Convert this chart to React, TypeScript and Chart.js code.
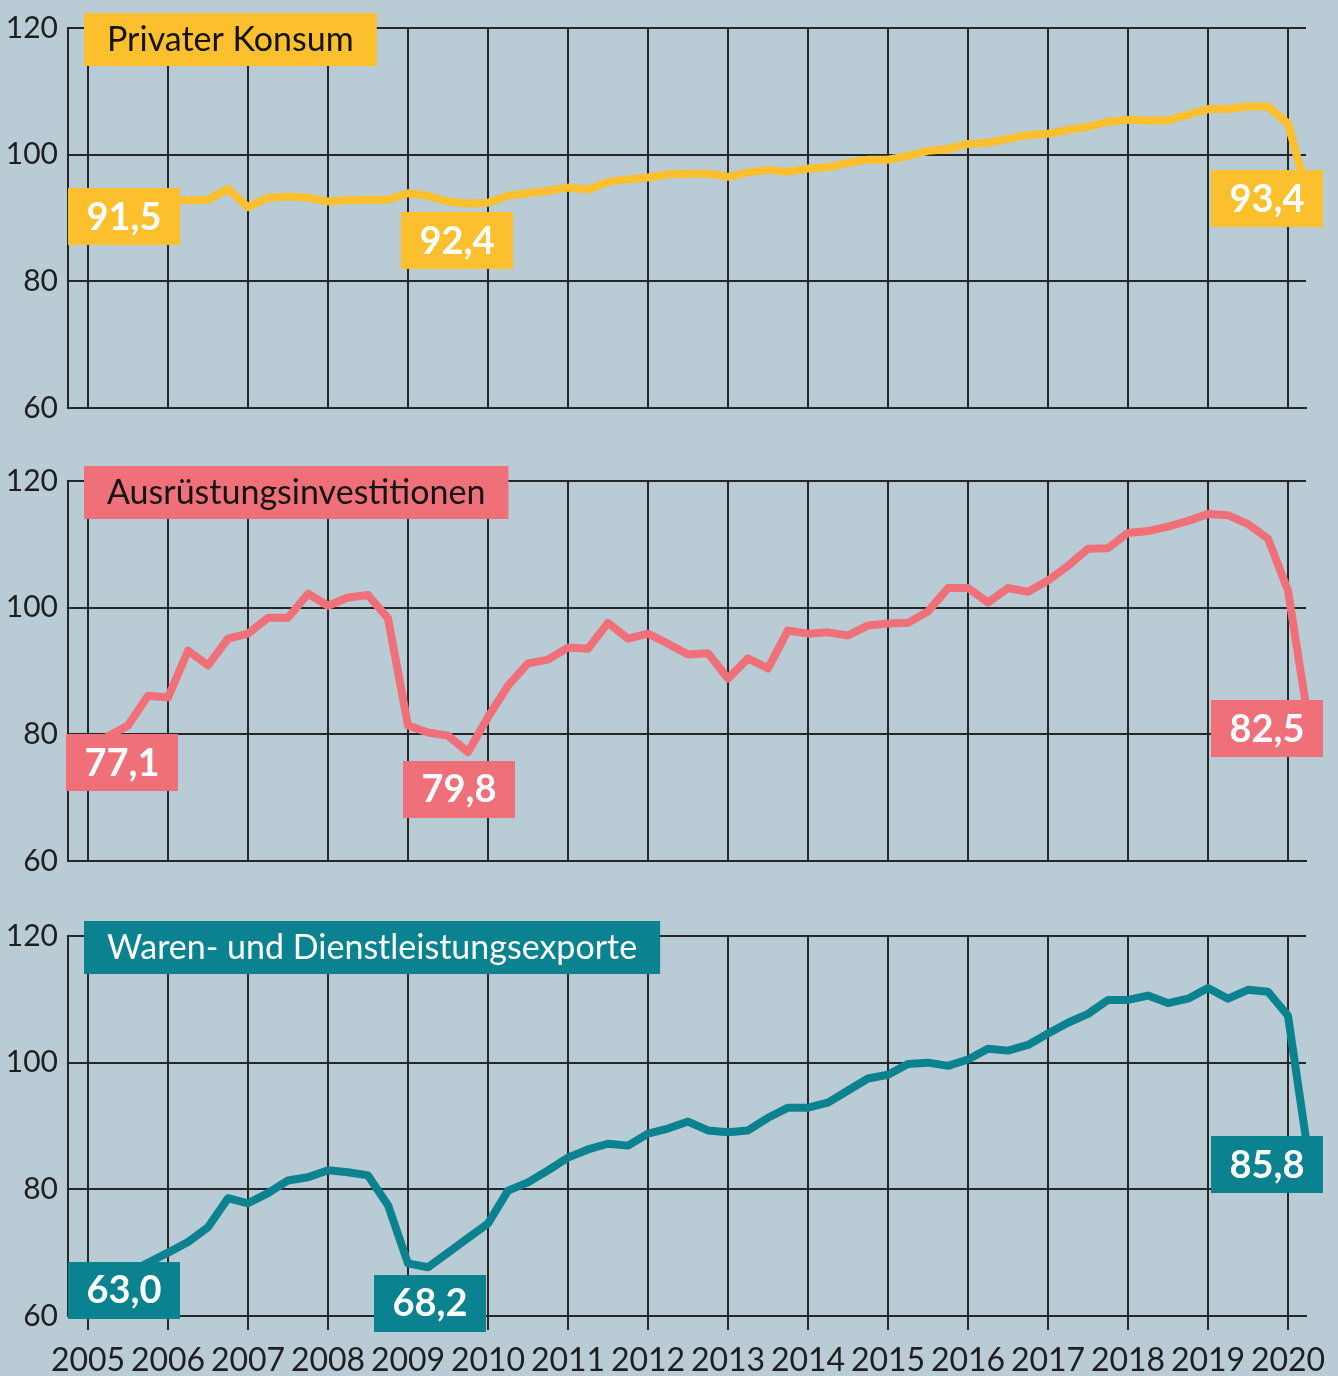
import React, { useEffect, useRef } from 'react';
import { Chart, registerables } from 'chart.js';

Chart.register(...registerables);

// ---- Data ----
const yearTicks = [2005, 2006, 2007, 2008, 2009, 2010, 2011, 2012, 2013, 2014, 2015, 2016, 2017, 2018, 2019, 2020];
const yTicks = [60, 80, 100, 120];

const quarterLabels: string[] = [];
for (const y of yearTicks) for (const q of [1, 2, 3, 4]) quarterLabels.push(`${y}-Q${q}`);
const quarters = quarterLabels.slice(0, 62); // 2005-Q1 … 2020-Q2

const konsum = [
  91.5, 91.9, 92.2, 92.5, 92.7, 92.8, 92.9, 94.6, 91.7, 93.2, 93.4, 93.2, 92.6, 92.8, 92.9, 92.9,
  93.9, 93.5, 92.6, 92.3, 92.4, 93.5, 93.9, 94.3, 94.8, 94.5, 95.7, 96.1, 96.4, 96.9, 97.0, 97.0,
  96.5, 97.2, 97.6, 97.3, 97.8, 98.0, 98.7, 99.2, 99.2, 99.8, 100.6, 100.9, 101.7, 101.9, 102.5, 103.1,
  103.3, 103.9, 104.4, 105.2, 105.5, 105.4, 105.4, 106.3, 107.2, 107.2, 107.6, 107.6, 104.9, 93.4,
];

const investitionen = [
  77.1, 79.7, 81.4, 86.1, 85.8, 93.2, 90.9, 95.1, 95.9, 98.4, 98.4, 102.2, 100.3, 101.6, 102.0, 98.3,
  81.4, 80.3, 79.8, 77.2, 82.7, 87.7, 91.2, 91.8, 93.7, 93.5, 97.6, 95.1, 95.9, 94.3, 92.6, 92.8,
  88.8, 92.0, 90.4, 96.4, 95.9, 96.1, 95.6, 97.2, 97.5, 97.6, 99.4, 103.1, 103.1, 100.8, 103.1, 102.5,
  104.3, 106.6, 109.3, 109.4, 111.8, 112.1, 112.8, 113.7, 114.8, 114.6, 113.2, 110.9, 102.7, 82.5,
];

const exporte = [
  63.0, 64.9, 66.7, 68.4, 70.0, 71.7, 74.0, 78.6, 77.8, 79.4, 81.4, 81.9, 83.0, 82.7, 82.2, 77.5,
  68.3, 67.7, 70.0, 72.3, 74.6, 79.8, 81.1, 83.0, 85.0, 86.3, 87.2, 86.9, 88.8, 89.6, 90.7, 89.3,
  89.0, 89.3, 91.3, 92.9, 92.9, 93.7, 95.6, 97.5, 98.1, 99.8, 100.0, 99.5, 100.5, 102.2, 101.9, 102.8,
  104.6, 106.3, 107.7, 109.9, 109.9, 110.6, 109.4, 110.1, 111.8, 110.1, 111.5, 111.2, 107.4, 85.8,
];

const konsumLabels = [
  { text: '91,5', index: 0 },
  { text: '92,4', index: 19 },
  { text: '93,4', index: 61 },
];
const investitionenLabels = [
  { text: '77,1', index: 0 },
  { text: '79,8', index: 19 },
  { text: '82,5', index: 61 },
];
const exporteLabels = [
  { text: '63,0', index: 0 },
  { text: '68,2', index: 17 },
  { text: '85,8', index: 61 },
];

// ---- Layout / style (kept apart from the data) ----
const BG = '#b9cbd4';
const GRID = '#262626';
const FONT = 'Lato, "Noto Sans", sans-serif';

const konsumOffsets = [ { dx: 36, dy: 8 }, { dx: -11, dy: 37 }, { dx: -41, dy: 2 } ];
const investitionenOffsets = [ { dx: 34, dy: 10 }, { dx: -9, dy: 37 }, { dx: -41, dy: 10 } ];
const exporteOffsets = [ { dx: 36, dy: -7 }, { dx: 2, dy: 36 }, { dx: -41, dy: 12 } ];

function toX(label: string): number {
  const [y, q] = label.split('-Q');
  return Number(y) + (Number(q) - 1) / 4;
}

type PanelProps = {
  title: string;
  values: number[];
  labels: { text: string; index: number }[];
  offsets: { dx: number; dy: number }[];
  color: string;
  titleColor: string;
  top: number;
  height: number;
  showX: boolean;
};

function Panel(p: PanelProps) {
  const ref = useRef<HTMLCanvasElement | null>(null);

  useEffect(() => {
    if (!ref.current) return;
    const overlay = {
      id: 'overlay',
      afterDatasetsDraw(chart: any) {
        const { ctx, chartArea } = chart;
        ctx.save();
        // title box
        ctx.font = `34px ${FONT}`;
        const tw = ctx.measureText(p.title).width;
        const bx = chartArea.left + 16;
        const by = chartArea.top - 15;
        const bw = tw + 46;
        const bh = 53;
        ctx.fillStyle = p.color;
        ctx.fillRect(bx, by, bw, bh);
        ctx.fillStyle = p.titleColor;
        ctx.textBaseline = 'middle';
        ctx.textAlign = 'left';
        ctx.fillText(p.title, bx + 23, by + bh / 2 + 1);
        // value boxes
        const meta = chart.getDatasetMeta(0);
        p.labels.forEach((l, i) => {
          const pt = meta.data[l.index];
          const off = p.offsets[i];
          const cx = pt.x + off.dx;
          const cy = pt.y + off.dy;
          ctx.fillStyle = p.color;
          ctx.fillRect(Math.round(cx - 56), Math.round(cy - 28.5), 112, 57);
          ctx.font = `bold 38px ${FONT}`;
          ctx.fillStyle = '#ffffff';
          ctx.textAlign = 'center';
          ctx.textBaseline = 'middle';
          ctx.fillText(l.text, cx, cy + 1);
        });
        ctx.restore();
      },
    };

    const axisH = p.height - 408;
    const chart = new Chart(ref.current, {
      type: 'line',
      data: {
        datasets: [
          {
            data: quarters.map((q, i) => ({ x: toX(q), y: p.values[i] })),
            borderColor: p.color,
            borderWidth: 8,
            pointRadius: 0,
            tension: 0,
            borderJoinStyle: 'round',
            clip: false as any,
          },
        ],
      },
      options: {
        responsive: false,
        animation: false,
        events: [],
        layout: { padding: { top: 27, right: 32, left: 0, bottom: 0 } },
        plugins: { legend: { display: false }, tooltip: { enabled: false } },
        scales: {
          x: {
            type: 'linear',
            min: 2004.75,
            max: 2020.225,
            afterBuildTicks: (scale: any) => {
              scale.ticks = yearTicks.map((v) => ({ value: v }));
            },
            afterFit: (scale: any) => {
              scale.height = axisH;
            },
            grid: {
              color: GRID,
              lineWidth: 2,
              drawTicks: p.showX,
              tickLength: 14,
            },
            border: { display: true, color: GRID, width: 2 },
            ticks: {
              display: p.showX,
              autoSkip: false,
              maxRotation: 0,
              padding: 11,
              color: '#1e1e1e',
              font: { family: FONT, size: 32 },
              callback: (v: any) => String(v),
            },
          },
          y: {
            min: 60,
            max: 120,
            afterBuildTicks: (scale: any) => {
              scale.ticks = yTicks.map((v) => ({ value: v }));
            },
            afterFit: (scale: any) => {
              scale.width = 68;
            },
            grid: { color: GRID, lineWidth: 2, drawTicks: false },
            border: { display: true, color: GRID, width: 2 },
            ticks: {
              padding: 10,
              color: '#1e1e1e',
              font: { family: FONT, size: 30 },
              callback: (v: any) => String(v),
            },
          },
        },
      },
      plugins: [overlay],
    } as any);
    return () => chart.destroy();
  }, []);

  return (
    <canvas
      ref={ref}
      width={1338}
      height={p.height}
      style={{ position: 'absolute', left: 0, top: p.top, width: 1338, height: p.height, display: 'block' }}
    />
  );
}

export default function App() {
  useEffect(() => {
    document.body.style.margin = '0';
    document.body.style.background = BG;
  }, []);
  return (
    <div style={{ position: 'absolute', left: 0, top: 0, width: 1338, height: 1376, background: BG, overflow: 'hidden' }}>
      <Panel title="Privater Konsum" values={konsum} labels={konsumLabels} offsets={konsumOffsets}
        color="#fcbf2e" titleColor="#141414" top={0} height={453} showX={false} />
      <Panel title="Ausrüstungsinvestitionen" values={investitionen} labels={investitionenLabels} offsets={investitionenOffsets}
        color="#f0707a" titleColor="#141414" top={453} height={455} showX={false} />
      <Panel title="Waren- und Dienstleistungsexporte" values={exporte} labels={exporteLabels} offsets={exporteOffsets}
        color="#0b8290" titleColor="#ffffff" top={908} height={468} showX={true} />
    </div>
  );
}
